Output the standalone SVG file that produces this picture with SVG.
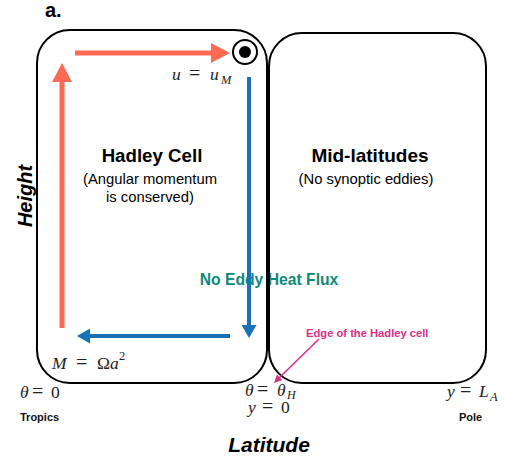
<svg xmlns="http://www.w3.org/2000/svg" width="506" height="465" viewBox="0 0 506 465">
<style>
.box{fill:none;stroke:#000;stroke-width:2}
.sans{font-family:"Liberation Sans",Arial,sans-serif}
.b{font-weight:bold}
.bi{font-weight:bold;font-style:italic}
.m{font-family:"Liberation Serif","Times New Roman",serif;font-size:17.5px;fill:#222}
.v{font-style:italic}
.eq{font-size:20px}
.red{stroke:#FF6A55;stroke-width:5;fill:none}
.blue{stroke:#1672B6;stroke-width:4;fill:none}
.mag{stroke:#D92F88;stroke-width:1.6;fill:none}
</style>
<defs>
<marker id="hr" viewBox="0 0 19 20" refX="1" refY="10" markerWidth="19" markerHeight="20" markerUnits="userSpaceOnUse" orient="auto"><path d="M0,0 L19,10 L0,20 z" fill="#FF6A55"/></marker>
<marker id="hb" viewBox="0 0 13 15" refX="1" refY="7.5" markerWidth="13" markerHeight="15" markerUnits="userSpaceOnUse" orient="auto"><path d="M0,0 L13,7.5 L0,15 z" fill="#1672B6"/></marker>
<marker id="hm" viewBox="0 0 8 8" refX="1" refY="4" markerWidth="8" markerHeight="8" markerUnits="userSpaceOnUse" orient="auto"><path d="M0,0 L8,4 L0,8 z" fill="#D92F88"/></marker>
</defs>
<text x="45" y="17" class="sans b" font-size="20" fill="#000">a.</text>
<text x="269" y="285" class="sans b" font-size="15.7" fill="#0E8A7D" text-anchor="middle">No Eddy Heat Flux</text>
<g id="hadley-cell">
<rect class="box" x="37" y="30" width="230" height="353" rx="33"/>
<text x="152" y="162" class="sans b" font-size="18.7" fill="#000" text-anchor="middle">Hadley Cell</text>
<text x="150" y="184" class="sans" font-size="14.8" fill="#000" text-anchor="middle">(Angular momentum</text>
<text x="150" y="202" class="sans" font-size="14.8" fill="#000" text-anchor="middle">is conserved)</text>
</g>
<g id="mid-latitudes">
<rect class="box" x="269" y="33" width="217" height="350" rx="33"/>
<text x="370" y="162" class="sans b" font-size="19" fill="#000" text-anchor="middle">Mid-latitudes</text>
<text x="366" y="184" class="sans" font-size="14.8" fill="#000" text-anchor="middle">(No synoptic eddies)</text>
</g>
<g id="uM">
<circle cx="245" cy="52" r="12" fill="#fff" stroke="#000" stroke-width="2"/>
<circle cx="245" cy="52" r="6" fill="#000"/>
</g>
<g id="connectors">
<line class="red" x1="62" y1="328" x2="62" y2="81" marker-end="url(#hr)"/>
<line class="red" x1="75" y1="53" x2="212" y2="53" marker-end="url(#hr)"/>
<line class="blue" x1="249" y1="77" x2="249" y2="326" marker-end="url(#hb)"/>
<line class="blue" x1="230" y1="336" x2="89" y2="336" marker-end="url(#hb)"/>
<line class="mag" x1="319" y1="339" x2="279" y2="378" marker-end="url(#hm)"/>
</g>
<g id="labels">
<text class="m" y="80"><tspan class="v" x="172">u</tspan><tspan class="eq" x="189">=</tspan><tspan class="v" x="210">u</tspan><tspan class="v" x="221" y="84" font-size="12.5">M</tspan></text>
<text class="m" y="369"><tspan class="v" x="52">M</tspan><tspan class="eq" x="76">=</tspan><tspan x="97">Ω</tspan><tspan class="v" x="110">a</tspan><tspan x="119" y="360" font-size="12.5">2</tspan></text>
<text class="m" y="398"><tspan class="v" x="20">θ</tspan><tspan class="eq" x="32">=</tspan><tspan x="51">0</tspan></text>
<text class="m" y="396"><tspan class="v" x="245">θ</tspan><tspan class="eq" x="257">=</tspan><tspan class="v" x="277">θ</tspan><tspan class="v" x="287" y="399" font-size="12">H</tspan></text>
<text class="m" y="413"><tspan class="v" x="248">y</tspan><tspan class="eq" x="262">=</tspan><tspan x="281">0</tspan></text>
<text class="m" y="397"><tspan class="v" x="447">y</tspan><tspan class="eq" x="460">=</tspan><tspan class="v" x="479">L</tspan><tspan class="v" x="490" y="401" font-size="12.5">A</tspan></text>
<text x="306" y="337" class="sans b" font-size="11.2" fill="#D92F88">Edge of the Hadley cell</text>
<text x="20" y="421" class="sans b" font-size="11" fill="#111">Tropics</text>
<text x="459" y="421" class="sans b" font-size="11" fill="#111">Pole</text>
<text x="269" y="452" class="sans bi" font-size="21" fill="#000" text-anchor="middle">Latitude</text>
<text transform="translate(32,196) rotate(-90)" class="sans bi" font-size="20" fill="#000" text-anchor="middle">Height</text>
</g>
</svg>
